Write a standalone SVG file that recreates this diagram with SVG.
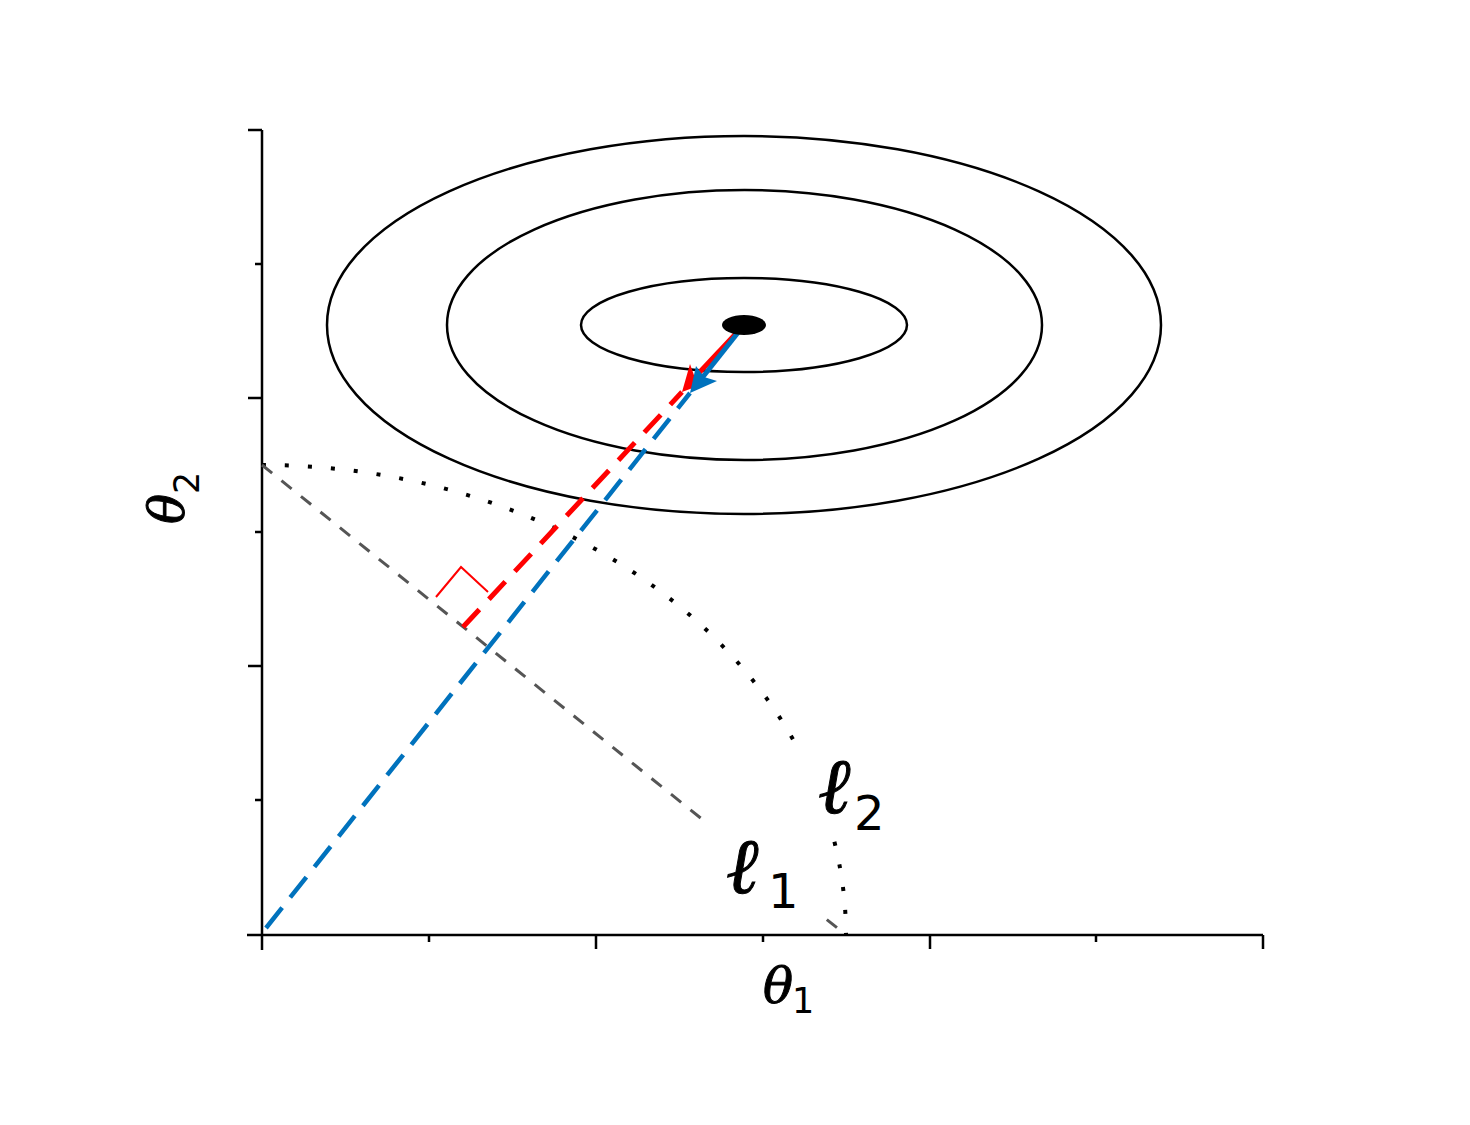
<svg xmlns="http://www.w3.org/2000/svg" width="1470" height="1125" viewBox="0 0 1470 1125">
<style>
.ax{stroke:#000;stroke-width:2.5;fill:none}
.ell{stroke:#000;stroke-width:2.5;fill:none}
.math{font-family:"DejaVu Serif","Liberation Serif",serif;font-style:italic;fill:#000;stroke:#000;stroke-width:1}
.ell-l{font-family:"DejaVu Serif","Liberation Serif",serif;fill:#000;stroke:#000;stroke-width:1}
.sub{font-family:"DejaVu Sans","Noto Sans",sans-serif;fill:#000}
</style>
<rect width="1470" height="1125" fill="#fff"/>
<g id="axes">
<path class="ax" d="M262,130 V950 M247,935 H1263"/>
<path class="ax" d="M248,130 H262 M248,398 H262 M248,666 H262 M255,264 H262 M255,532 H262 M255,800 H262"/>
<path class="ax" d="M596,935 V949 M930,935 V949 M1263,935 V949 M429,935 V942 M763,935 V942 M1096,935 V942"/>
</g>
<g id="contours">
<ellipse class="ell" cx="744" cy="325" rx="163" ry="47"/>
<ellipse class="ell" cx="744.5" cy="325" rx="297.5" ry="135"/>
<ellipse class="ell" cx="744" cy="325" rx="417" ry="189"/>
</g>
<g id="constraints">
<path d="M262,465 A584,470 0 0 1 846,935" fill="none" stroke="#000" stroke-width="4" stroke-dasharray="4 19"/>
<path d="M262,465 L846,935" fill="none" stroke="#555" stroke-width="3" stroke-dasharray="13 12"/>
</g>
<g id="connectors">
<path d="M463,627 L682,392" fill="none" stroke="#ff0000" stroke-width="5" stroke-dasharray="24 14"/>
<path d="M266,928 L690,393" fill="none" stroke="#0072bd" stroke-width="4.5" stroke-dasharray="26 13"/>
<path d="M436,597 L461,567 L488,592" fill="none" stroke="#ff0000" stroke-width="2"/>
<path d="M744,325 L697,375" fill="none" stroke="#ff0000" stroke-width="5"/>
<polygon points="682,392 690,364 695,378 706,383" fill="#ff0000"/>
<path d="M744,325 L702,378" fill="none" stroke="#0072bd" stroke-width="5"/>
<polygon points="690,393 696,366 704,377 717,381" fill="#0072bd"/>
</g>
<g id="optimum">
<ellipse cx="744" cy="325" rx="22" ry="10" fill="#000"/>
</g>
<g id="labels">
<rect x="703" y="818" width="119" height="106" fill="#fff"/>
<rect x="798" y="745" width="97" height="95" fill="#fff"/>
<text class="ell-l" x="726" y="893" font-size="78" font-style="italic">ℓ</text>
<text class="sub" x="768" y="908" font-size="48">1</text>
<text class="ell-l" x="818" y="813" font-size="78" font-style="italic">ℓ</text>
<text class="sub" x="854" y="830" font-size="48">2</text>
<text class="math" x="763" y="1003" font-size="50">θ</text>
<text class="sub" x="792" y="1013" font-size="35">1</text>
<text class="math" transform="translate(184,524) rotate(-90)" font-size="50">θ</text>
<text class="sub" transform="translate(199,494) rotate(-90)" font-size="35">2</text>
</g>
</svg>
